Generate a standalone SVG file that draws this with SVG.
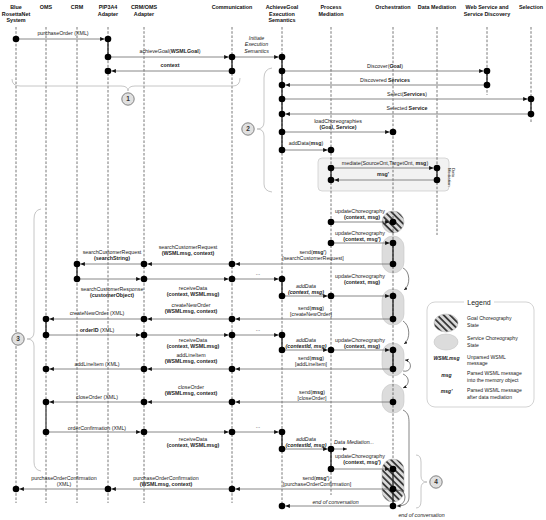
<svg xmlns="http://www.w3.org/2000/svg" width="546" height="520" viewBox="0 0 546 520">
<defs>
<style>
text{font-family:"Liberation Sans",Arial,Helvetica,sans-serif;fill:#222}
.h{font-size:5.4px;font-weight:bold;text-anchor:middle;fill:#111}
.t{font-size:5.3px;text-anchor:middle}
.b{font-weight:bold}
.i{font-style:italic}
.ll{stroke:#555;stroke-width:0.8;stroke-dasharray:2.6 1.6;fill:none}
.act{stroke:#222;stroke-width:1.3}
.m{stroke:#7a7a7a;stroke-width:0.9;fill:none;marker-end:url(#ah)}
.d{fill:#000}
.br{fill:none;stroke:#b8b8b8;stroke-width:0.8}
.nc{fill:#e0e0e0;stroke:#666;stroke-width:0.8}
.nt{font-size:6.5px;font-weight:bold;text-anchor:middle;fill:#333}
.pill{fill:#dcdcdc;stroke:#c6c6c6;stroke-width:0.6}
.hat{fill:url(#hatch);stroke:#bbb;stroke-width:0.6}
.tr{fill:none;stroke:#333;stroke-width:0.6;marker-end:url(#ah2)}
.lg{font-size:5.1px}
</style>
<marker id="ah" markerUnits="userSpaceOnUse" markerWidth="5" markerHeight="4" refX="4.5" refY="2" orient="auto"><path d="M0,0 L4.5,2 L0,4 z" fill="#111"/></marker>
<marker id="ah2" markerUnits="userSpaceOnUse" markerWidth="4" markerHeight="4" refX="3.5" refY="1.6" orient="auto"><path d="M0,0 L3.5,1.6 L0,3.2 z" fill="#222"/></marker>
<pattern id="hatch" patternUnits="userSpaceOnUse" width="4.5" height="4.5" patternTransform="rotate(-45)"><rect width="4.5" height="4.5" fill="#d9d9d9"/><rect width="1.8" height="4.5" fill="#3a3a3a"/></pattern>
</defs>
<rect width="546" height="520" fill="#fff"/>

<!-- background regions -->
<g id="data-mediation-region">
<rect x="318" y="158" width="131" height="33" rx="4" fill="#f2f2f2" stroke="#c8c8c8" stroke-width="0.7"/>
<text transform="translate(452,168) rotate(90)" style="font-size:4.3px"><tspan x="0" y="0">Data</tspan><tspan x="0" y="3.8">Mediation</tspan></text>
</g>
<g id="choreography-states">
<circle class="hat" cx="393" cy="222" r="11"/>
<rect class="pill" x="382" y="236" width="22" height="37" rx="11"/>
<rect class="pill" x="382" y="289" width="22" height="36" rx="11"/>
<rect class="pill" x="382" y="343" width="22" height="33" rx="11"/>
<rect class="pill" x="382" y="384" width="22" height="29" rx="11"/>
<rect class="hat" x="382" y="459" width="22" height="43" rx="11"/>
</g>

<!-- lifelines -->
<g id="n-blue">
<text class="h" x="16" y="9">Blue</text><text class="h" x="16" y="15.7">RosettaNet</text><text class="h" x="16" y="22.4">System</text>
<line class="ll" x1="16" y1="27" x2="16" y2="503"/>
</g>
<g id="n-oms">
<text class="h" x="46" y="9">OMS</text>
<line class="ll" x1="46" y1="27" x2="46" y2="503"/>
<line class="act" x1="46" y1="319" x2="46" y2="335"/>
<line class="act" x1="46" y1="402" x2="46" y2="432" style="stroke:#666;stroke-width:1.6"/>
</g>
<g id="n-crm">
<text class="h" x="77" y="9">CRM</text>
<line class="ll" x1="77" y1="27" x2="77" y2="503"/>
<line class="act" x1="77" y1="264" x2="77" y2="279"/>
</g>
<g id="n-pip">
<text class="h" x="108" y="9">PIP3A4</text><text class="h" x="108" y="15.7">Adapter</text>
<line class="ll" x1="108" y1="27" x2="108" y2="503"/>
<line class="act" x1="108" y1="39" x2="108" y2="57"/>
</g>
<g id="n-crmoms">
<text class="h" x="144" y="9">CRM/OMS</text><text class="h" x="144" y="15.7">Adapter</text>
<line class="ll" x1="144" y1="27" x2="144" y2="503"/>
</g>
<g id="n-comm">
<text class="h" x="232" y="9">Communication</text>
<line class="ll" x1="232" y1="27" x2="232" y2="503"/>
<line class="act" x1="232" y1="57" x2="232" y2="71"/>
</g>
<g id="n-ag">
<text class="h" x="282" y="9">AchieveGoal</text><text class="h" x="282" y="15.7">Execution</text><text class="h" x="282" y="22.4">Semantics</text>
<line class="ll" x1="282" y1="27" x2="282" y2="506"/>
<line class="act" x1="282" y1="57" x2="282" y2="150"/>
<line class="act" x1="282" y1="279" x2="282" y2="296"/>
<line class="act" x1="282" y1="335" x2="282" y2="350"/>
<line class="act" x1="282" y1="432" x2="282" y2="449"/>
</g>
<g id="n-pm">
<text class="h" x="331" y="9">Process</text><text class="h" x="331" y="15.7">Mediation</text>
<line class="ll" x1="331" y1="27" x2="331" y2="495"/>
<line class="act" x1="331" y1="168" x2="331" y2="180"/>
<line class="act" x1="331" y1="449" x2="331" y2="469"/>
</g>
<g id="n-orch">
<text class="h" x="393" y="9">Orchestration</text>
<line class="ll" x1="393" y1="27" x2="393" y2="459"/>
<line class="act" x1="393" y1="243" x2="393" y2="264"/>
<line class="act" x1="393" y1="296" x2="393" y2="319"/>
<line class="act" x1="393" y1="350" x2="393" y2="369"/>
<line class="act" x1="393" y1="469" x2="393" y2="506"/>
</g>
<g id="n-dm">
<text class="h" x="437" y="9">Data Mediation</text>
<line class="ll" x1="437" y1="27" x2="437" y2="235"/>
<line class="act" x1="437" y1="168" x2="437" y2="180"/>
</g>
<g id="n-ws">
<text class="h" x="487" y="9">Web Service and</text><text class="h" x="487" y="15.7">Service Discovery</text>
<line class="ll" x1="487" y1="27" x2="487" y2="95"/>
<line class="act" x1="487" y1="71" x2="487" y2="85"/>
</g>
<g id="n-sel">
<text class="h" x="531" y="9">Selection</text>
<line class="ll" x1="531" y1="27" x2="531" y2="122"/>
<line class="act" x1="531" y1="99" x2="531" y2="114"/>
</g>

<!-- connectors -->
<g id="connectors">
<line class="m" x1="16" y1="39" x2="104.6" y2="39"/>
<line class="m" x1="108" y1="57" x2="228.6" y2="57"/>
<line class="m" x1="232" y1="71" x2="111.4" y2="71"/>
<line class="m" x1="232" y1="57" x2="278.6" y2="57"/>
<line class="m" x1="282" y1="71" x2="483.6" y2="71"/>
<line class="m" x1="487" y1="85" x2="285.4" y2="85"/>
<line class="m" x1="282" y1="99" x2="527.6" y2="99"/>
<line class="m" x1="531" y1="114" x2="285.4" y2="114"/>
<line class="m" x1="282" y1="132" x2="389.6" y2="132"/>
<line class="m" x1="282" y1="150" x2="327.6" y2="150"/>
<line class="m" x1="331" y1="168" x2="433.6" y2="168"/>
<line class="m" x1="437" y1="180" x2="334.4" y2="180"/>
<line class="m" x1="331" y1="222" x2="389.6" y2="222"/>
<line class="m" x1="331" y1="243" x2="389.6" y2="243"/>
<line class="m" x1="393" y1="264" x2="235.4" y2="264"/>
<line class="m" x1="232" y1="264" x2="147.4" y2="264"/>
<line class="m" x1="144" y1="264" x2="80.4" y2="264"/>
<line class="m" x1="77" y1="279" x2="140.6" y2="279"/>
<line class="m" x1="144" y1="279" x2="228.6" y2="279"/>
<line class="m" x1="232" y1="279" x2="278.6" y2="279"/>
<line class="m" x1="282" y1="296" x2="327.6" y2="296"/>
<line class="m" x1="331" y1="296" x2="389.6" y2="296"/>
<line class="m" x1="393" y1="319" x2="235.4" y2="319"/>
<line class="m" x1="232" y1="319" x2="147.4" y2="319"/>
<line class="m" x1="144" y1="319" x2="49.4" y2="319"/>
<line class="m" x1="46" y1="335" x2="140.6" y2="335"/>
<line class="m" x1="144" y1="335" x2="228.6" y2="335"/>
<line class="m" x1="232" y1="335" x2="278.6" y2="335"/>
<line class="m" x1="282" y1="350" x2="327.6" y2="350"/>
<line class="m" x1="331" y1="350" x2="389.6" y2="350"/>
<line class="m" x1="393" y1="369" x2="235.4" y2="369"/>
<line class="m" x1="232" y1="369" x2="147.4" y2="369"/>
<line class="m" x1="144" y1="369" x2="49.4" y2="369"/>
<line class="m" x1="393" y1="402" x2="235.4" y2="402"/>
<line class="m" x1="232" y1="402" x2="147.4" y2="402"/>
<line class="m" x1="144" y1="402" x2="49.4" y2="402"/>
<line class="m" x1="46" y1="432" x2="140.6" y2="432"/>
<line class="m" x1="144" y1="432" x2="228.6" y2="432"/>
<line class="m" x1="232" y1="432" x2="278.6" y2="432"/>
<line class="m" x1="282" y1="449" x2="327.6" y2="449"/>
<line class="m" x1="331" y1="449" x2="347" y2="449"/>
<line class="m" x1="331" y1="469" x2="389.6" y2="469"/>
<line class="m" x1="393" y1="489" x2="235.4" y2="489"/>
<line class="m" x1="232" y1="489" x2="111.4" y2="489"/>
<line class="m" x1="108" y1="489" x2="19.4" y2="489"/>
<line class="m" x1="393" y1="506" x2="285.4" y2="506"/>
<!-- state transitions -->
<path class="tr" d="M403,268 C410,271 411,285 404,290"/>
<path class="tr" d="M403,321 C410,325 411,339 404,344"/>
<path class="tr" d="M403,371 C412,373 413,361 405,360"/>
<path class="tr" d="M403,374 C410,377 410,385 403,388"/>
<path class="tr" d="M403,410 C409,413 409,418 409,424 L409,497 C409,503 405,506 397,506"/>
<path d="M396,490 Q405,490 405,497 Q405,504 398,505.5" fill="none" stroke="#333" stroke-width="0.6"/>
<!-- labels -->
<text class="t" x="63" y="35">purchaseOrder (XML)</text>
<text class="t" x="170" y="52.5">achieveGoal(<tspan class="b">WSMLGoal</tspan>)</text>
<text class="t b" x="170" y="67">context</text>
<text class="t i" x="256.5" y="40.2">Initiate</text><text class="t i" x="256.5" y="46.4">Execution</text><text class="t i" x="256.5" y="52.6">Semantics</text>
<text class="t" x="385" y="67.5">Discover(<tspan class="b">Goal</tspan>)</text>
<text class="t" x="385" y="81.5">Discovered <tspan class="b">Services</tspan></text>
<text class="t" x="407" y="95.5">Select(<tspan class="b">Services</tspan>)</text>
<text class="t" x="407" y="110">Selected <tspan class="b">Service</tspan></text>
<text class="t" x="338" y="123">loadChoreographies</text><text class="t b" x="338" y="129">(Goal, Service)</text>
<text class="t" x="306" y="144.5">addData(<tspan class="b">msg</tspan>)</text>
<text class="t" x="385" y="165">mediate(SourceOnt,TargetOnt, <tspan class="b">msg</tspan>)</text>
<text class="t b" x="383" y="176">msg'</text>
<text class="t" x="360" y="212.5">updateChoreography</text><text class="t b" x="362" y="219">(context, msg)</text>
<text class="t" x="360" y="234.5">updateChoreography</text><text class="t b" x="362" y="241">(context, msg')</text>
<text class="t" x="313" y="254">send(<tspan class="b">msg'</tspan>)</text><text class="t" x="313" y="260.3">[searchCustomerRequest]</text>
<text class="t" x="188" y="249">searchCustomerRequest</text><text class="t b" x="188" y="255.3">(WSMLmsg, context)</text>
<text class="t" x="112" y="254">searchCustomerRequest</text><text class="t b" x="112" y="260.3">(searchString)</text>
<text class="t" x="112" y="291">searchCustomerResponse</text><text class="t b" x="112" y="297.3">(customerObject)</text>
<text class="t" x="258" y="275">...</text>
<text class="t" x="193" y="290">receiveData</text><text class="t b" x="193" y="296.3">(context, WSMLmsg)</text>
<text class="t i" x="306" y="288">addData</text><text class="t b i" x="306" y="294.3">(context, msg)</text>
<text class="t" x="360" y="278">updateChoreography</text><text class="t b" x="362" y="284.3">(context, msg)</text>
<text class="t" x="311" y="310">send(<tspan class="b">msg</tspan>)</text><text class="t" x="311" y="316.3">[createNewOrder]</text>
<text class="t" x="191" y="307">createNewOrder</text><text class="t b" x="191" y="313.3">(WSMLmsg, context)</text>
<text class="t" x="97" y="315">createNewOrder (XML)</text>
<text class="t" x="97" y="332"><tspan class="b">orderID</tspan> (XML)</text>
<text class="t" x="258" y="331">...</text>
<text class="t" x="193" y="342">receiveData</text><text class="t b" x="193" y="348.3">(context, WSMLmsg)</text>
<text class="t i" x="306" y="342">addData</text><text class="t b i" x="306" y="348.3">(contextId, msg)</text>
<text class="t" x="360" y="341.5">updateChoreography</text><text class="t b" x="362" y="347.8">(context, msg)</text>
<text class="t" x="311" y="360">send(<tspan class="b">msg</tspan>)</text><text class="t" x="311" y="366.3">[addLineItem]</text>
<text class="t" x="191" y="357">addLineItem</text><text class="t b" x="191" y="363.3">(WSMLmsg, context)</text>
<text class="t" x="97" y="366">addLineItem (XML)</text>
<text class="t" x="312" y="393.5">send(<tspan class="b">msg</tspan>)</text><text class="t" x="312" y="399.5">[closeOrder]</text>
<text class="t" x="191" y="389">closeOrder</text><text class="t b" x="191" y="395.3">(WSMLmsg, context)</text>
<text class="t" x="97" y="399">closeOrder (XML)</text>
<text class="t" x="97" y="430">orderConfirmation (XML)</text>
<text class="t" x="258" y="428">...</text>
<text class="t" x="193" y="441">receiveData</text><text class="t b" x="193" y="447.3">(context, WSMLmsg)</text>
<text class="t i" x="306" y="441">addData</text><text class="t b i" x="306" y="447.3">(contextId, msg)</text>
<text class="t i" x="354" y="444">Data Mediation...</text>
<text class="t" x="360" y="457.5">updateChoreography</text><text class="t b" x="362" y="463.8">(context, msg')</text>
<text class="t" x="316" y="479.5">send(<tspan class="b">msg'</tspan>)</text><text class="t" x="317" y="485.8">[purchaseOrderConfirmation]</text>
<text class="t" x="166" y="479.5">purchaseOrderConfirmation</text><text class="t b" x="166" y="485.8">(WSMLmsg, context)</text>
<text class="t" x="64" y="480">purchaseOrderConfirmation</text><text class="t" x="64" y="486.3">(XML)</text>
<text class="t i" x="335.5" y="503.5">end of conversation</text>
<text class="t i" x="421.5" y="517">end of conversation</text>
</g>

<!-- execution points -->
<g id="exec-points" class="d">
<circle cx="16" cy="39" r="3.3"/><circle cx="108" cy="39" r="3.3"/><circle cx="108" cy="57" r="3.3"/><circle cx="232" cy="57" r="3.3"/>
<circle cx="232" cy="71" r="3.3"/><circle cx="108" cy="71" r="3.3"/><circle cx="282" cy="57" r="3.3"/><circle cx="282" cy="71" r="3.3"/>
<circle cx="487" cy="71" r="3.3"/><circle cx="487" cy="85" r="3.3"/><circle cx="282" cy="85" r="3.3"/><circle cx="282" cy="99" r="3.3"/>
<circle cx="531" cy="99" r="3.3"/><circle cx="531" cy="114" r="3.3"/><circle cx="282" cy="114" r="3.3"/><circle cx="282" cy="132" r="3.3"/>
<circle cx="393" cy="132" r="3.3"/><circle cx="282" cy="150" r="3.3"/><circle cx="331" cy="150" r="3.3"/><circle cx="331" cy="168" r="3.3"/>
<circle cx="437" cy="168" r="3.3"/><circle cx="437" cy="180" r="3.3"/><circle cx="331" cy="180" r="3.3"/><circle cx="331" cy="222" r="3.3"/>
<circle cx="393" cy="222" r="3.3"/><circle cx="331" cy="243" r="3.3"/><circle cx="393" cy="243" r="3.3"/><circle cx="393" cy="264" r="3.3"/>
<circle cx="232" cy="264" r="3.3"/><circle cx="144" cy="264" r="3.3"/><circle cx="77" cy="264" r="3.3"/><circle cx="77" cy="279" r="3.3"/>
<circle cx="144" cy="279" r="3.3"/><circle cx="232" cy="279" r="3.3"/><circle cx="282" cy="279" r="3.3"/><circle cx="282" cy="296" r="3.3"/>
<circle cx="331" cy="296" r="3.3"/><circle cx="393" cy="296" r="3.3"/><circle cx="393" cy="319" r="3.3"/><circle cx="232" cy="319" r="3.3"/>
<circle cx="144" cy="319" r="3.3"/><circle cx="46" cy="319" r="3.3"/><circle cx="46" cy="335" r="3.3"/><circle cx="144" cy="335" r="3.3"/>
<circle cx="232" cy="335" r="3.3"/><circle cx="282" cy="335" r="3.3"/><circle cx="282" cy="350" r="3.3"/><circle cx="331" cy="350" r="3.3"/>
<circle cx="393" cy="350" r="3.3"/><circle cx="393" cy="369" r="3.3"/><circle cx="232" cy="369" r="3.3"/><circle cx="144" cy="369" r="3.3"/>
<circle cx="46" cy="369" r="3.3"/><circle cx="393" cy="402" r="3.3"/><circle cx="232" cy="402" r="3.3"/><circle cx="144" cy="402" r="3.3"/>
<circle cx="46" cy="402" r="3.3"/><circle cx="46" cy="432" r="3.3"/><circle cx="144" cy="432" r="3.3"/><circle cx="232" cy="432" r="3.3"/>
<circle cx="282" cy="432" r="3.3"/><circle cx="282" cy="449" r="3.3"/><circle cx="331" cy="449" r="3.3"/><circle cx="331" cy="469" r="3.3"/>
<circle cx="393" cy="469" r="3.3"/><circle cx="393" cy="489" r="3.3"/><circle cx="232" cy="489" r="3.3"/><circle cx="108" cy="489" r="3.3"/>
<circle cx="16" cy="489" r="3.3"/><circle cx="393" cy="506" r="3.3"/><circle cx="282" cy="506" r="3.3"/>
</g>

<!-- phase braces -->
<g id="phase-1">
<path class="br" d="M12,79 Q12,86 20,86 L121,86 Q128,86 128,91 Q128,86 135,86 L233,86 Q240,86 240,78"/>
<circle class="nc" cx="128" cy="99" r="6.2"/><text class="nt" x="128" y="101.3">1</text>
</g>
<g id="phase-2">
<path class="br" d="M272,68 Q264,69 264,78 L264,122 Q264,129 257,129 Q264,129 264,136 L264,184 Q264,191 272,192"/>
<circle class="nc" cx="248" cy="129" r="6.2"/><text class="nt" x="248" y="131.3">2</text>
</g>
<g id="phase-3">
<path class="br" d="M41,209 Q34,210 34,219 L34,332 Q34,339 27,339 Q34,339 34,346 L34,462 Q34,470 41,471"/>
<circle class="nc" cx="18" cy="339" r="6.2"/><text class="nt" x="18" y="341.3">3</text>
</g>
<g id="phase-4">
<path class="br" d="M416,455 Q421,455 421,462 L421,476 Q421,482 427,482 Q421,482 421,488 L421,501 Q421,508 416,508"/>
<circle class="nc" cx="436" cy="482" r="6.2"/><text class="nt" x="436" y="484.3">4</text>
</g>

<!-- legend -->
<g id="legend">
<rect x="427" y="302" width="107" height="105" rx="8" fill="#fff" stroke="#c8c8c8" stroke-width="0.8"/>
<rect x="464" y="298" width="30" height="8" fill="#fff"/>
<text x="479" y="304.5" style="font-size:7px;text-anchor:middle">Legend</text>
<ellipse class="hat" cx="446" cy="323" rx="12" ry="9"/>
<text class="lg" x="467" y="320">Goal Choreography</text><text class="lg" x="467" y="326.8">State</text>
<ellipse class="pill" cx="446" cy="342" rx="12" ry="8"/>
<text class="lg" x="467" y="340">Service Choreography</text><text class="lg" x="467" y="346.8">State</text>
<text class="lg b i" x="446.5" y="360" text-anchor="middle">WSMLmsg</text>
<text class="lg" x="467" y="358.5">Unparsed WSML</text><text class="lg" x="467" y="365">message</text>
<text class="lg b i" x="446.5" y="376.5" text-anchor="middle">msg</text>
<text class="lg" x="467" y="375">Parsed WSML message</text><text class="lg" x="467" y="381.5">into the memory object</text>
<text class="lg b i" x="446.5" y="392.5" text-anchor="middle">msg'</text>
<text class="lg" x="467" y="392">Parsed WSML message</text><text class="lg" x="467" y="398.5">after data mediation</text>
</g>
</svg>
